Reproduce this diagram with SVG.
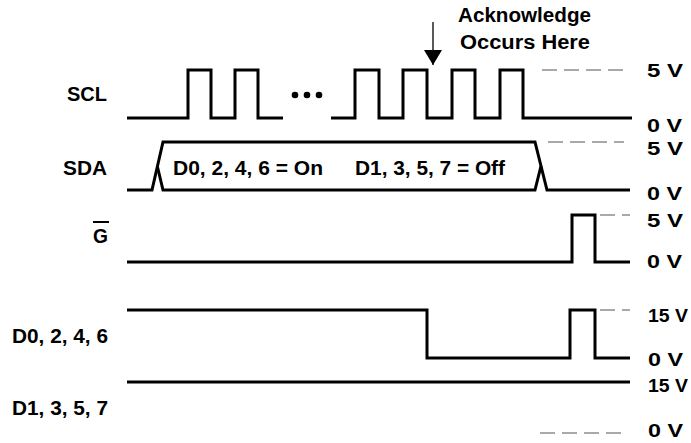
<svg xmlns="http://www.w3.org/2000/svg" width="691" height="443" viewBox="0 0 691 443">
<style>
  .sig{fill:none;stroke:#000;stroke-width:3;stroke-linejoin:miter;stroke-linecap:butt}
  .dash{fill:none;stroke:#555;stroke-width:1.2;stroke-dasharray:15 7}
  text{font-family:"Liberation Sans",Arial,sans-serif;font-weight:bold;font-size:20px;fill:#000}
  .lvl{font-size:18px}
</style>
<rect width="691" height="443" fill="#fff"/>
<defs>
  <marker id="ah" viewBox="0 0 10 10" refX="10" refY="5" markerWidth="15" markerHeight="18" markerUnits="userSpaceOnUse" orient="auto" preserveAspectRatio="none">
    <path d="M0,0 L10,5 L0,10 Z" fill="#000"/>
  </marker>
</defs>
<g id="labels">
  <text x="107" y="101" text-anchor="end" textLength="40" lengthAdjust="spacingAndGlyphs">SCL</text>
  <text x="107" y="175" text-anchor="end" textLength="44" lengthAdjust="spacingAndGlyphs">SDA</text>
  <text x="108" y="243" text-anchor="end" textLength="15" lengthAdjust="spacingAndGlyphs">G</text>
  <line x1="93" y1="222" x2="109" y2="222" stroke="#000" stroke-width="2"/>
  <text x="108" y="343" text-anchor="end" textLength="96" lengthAdjust="spacingAndGlyphs">D0, 2, 4, 6</text>
  <text x="108" y="415" text-anchor="end" textLength="96" lengthAdjust="spacingAndGlyphs">D1, 3, 5, 7</text>
</g>
<g id="ack">
  <text x="458" y="22" textLength="133" lengthAdjust="spacingAndGlyphs">Acknowledge</text>
  <text x="460" y="49" textLength="130" lengthAdjust="spacingAndGlyphs">Occurs Here</text>
</g>
<g id="levels">
  <text class="lvl" x="647" y="77" textLength="36" lengthAdjust="spacingAndGlyphs">5 V</text>
  <text class="lvl" x="647" y="132" textLength="35" lengthAdjust="spacingAndGlyphs">0 V</text>
  <text class="lvl" x="647" y="155" textLength="36" lengthAdjust="spacingAndGlyphs">5 V</text>
  <text class="lvl" x="647" y="200" textLength="35" lengthAdjust="spacingAndGlyphs">0 V</text>
  <text class="lvl" x="647" y="227" textLength="36" lengthAdjust="spacingAndGlyphs">5 V</text>
  <text class="lvl" x="647" y="268" textLength="35" lengthAdjust="spacingAndGlyphs">0 V</text>
  <text class="lvl" x="648" y="322" textLength="40" lengthAdjust="spacingAndGlyphs">15 V</text>
  <text class="lvl" x="648" y="366" textLength="35" lengthAdjust="spacingAndGlyphs">0 V</text>
  <text class="lvl" x="648" y="392" textLength="40" lengthAdjust="spacingAndGlyphs">15 V</text>
  <text class="lvl" x="648" y="437" textLength="35" lengthAdjust="spacingAndGlyphs">0 V</text>
</g>
<g id="scl">
  <path class="sig" d="M127,118 H188 V70 H211 V118 H235 V70 H258 V118 H283"/>
  <path class="sig" d="M331,118 H355 V70 H379 V118 H403 V70 H427 V118 H452 V70 H475 V118 H500 V70 H523 V118 H632"/>
  <circle cx="295" cy="95" r="3.3"/>
  <circle cx="307" cy="95" r="3.3"/>
  <circle cx="319" cy="95" r="3.3"/>
  <line class="dash" x1="542" y1="70" x2="624" y2="70"/>
</g>
<g id="sda">
  <path class="sig" d="M127,190 H152 L163,142 H535 L547,190 H630"/>
  <path class="sig" d="M157.5,167 L163,190 H535 L541,166"/>
  <text x="173" y="175" textLength="150" lengthAdjust="spacingAndGlyphs">D0, 2, 4, 6 = On</text>
  <text x="355" y="175" textLength="150" lengthAdjust="spacingAndGlyphs">D1, 3, 5, 7 = Off</text>
  <line class="dash" x1="548" y1="142" x2="624" y2="142"/>
</g>
<g id="g">
  <path class="sig" d="M127,262 H572 V215 H595 V262 H630"/>
  <line class="dash" x1="600" y1="215" x2="630" y2="215" stroke-dasharray="10 7"/>
</g>
<g id="d0">
  <path class="sig" d="M127,310 H427 V358 H570 V310 H595 V358 H630"/>
  <line class="dash" x1="600" y1="310" x2="630" y2="310" stroke-dasharray="10 7"/>
</g>
<g id="d1">
  <path class="sig" d="M127,382 H630"/>
  <line class="dash" x1="540" y1="433" x2="624" y2="433"/>
</g>
<g id="connectors">
  <line x1="433" y1="22" x2="433" y2="65" stroke="#000" stroke-width="1.3" marker-end="url(#ah)"/>
</g>
</svg>
